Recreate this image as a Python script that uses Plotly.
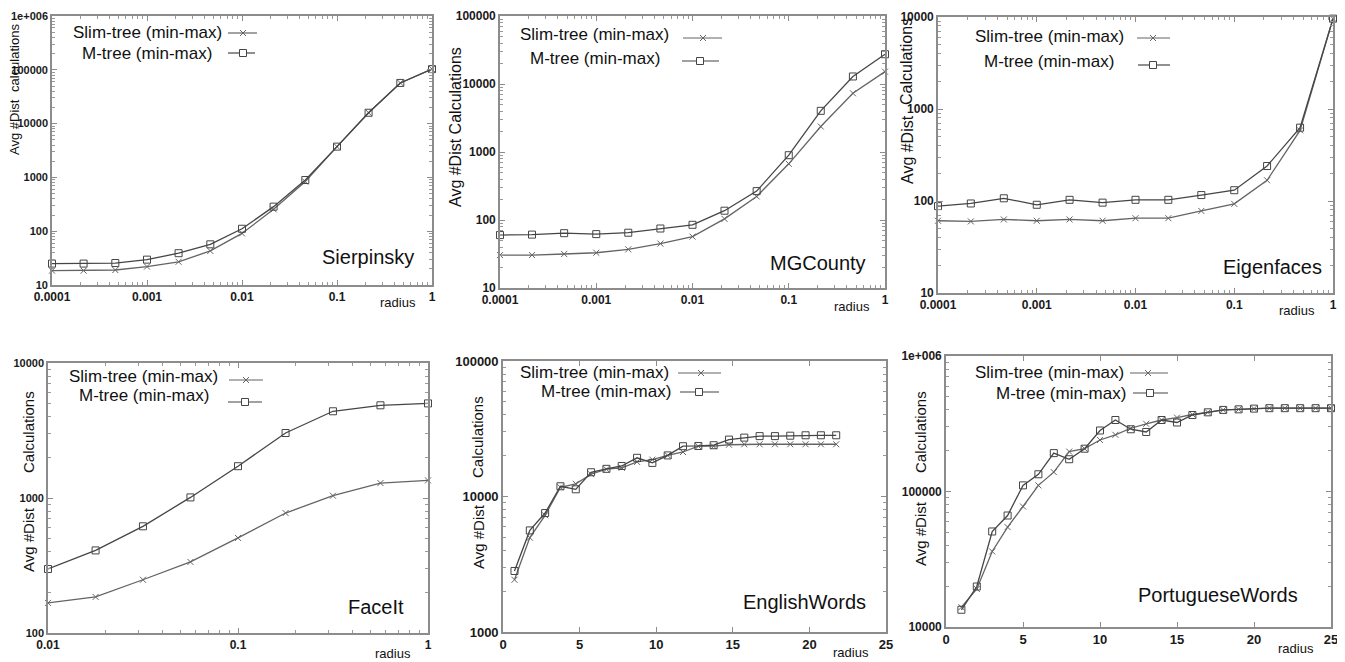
import plotly.graph_objects as go

# The page body has an 8px margin, so the figure is drawn 8px smaller and all
# reference pixel positions are shifted by that offset.
OFF = 8
W, H = 1345 - OFF, 662 - OFF

# ---------------- data ----------------
radius_small = [0.0001, 0.000215, 0.000464, 0.001, 0.00215, 0.00464, 0.01,
                0.0215, 0.0464, 0.1, 0.215, 0.464, 1]

sierp_slim = [18.5, 18.5, 19, 22, 27, 43, 91, 255, 835, 3730, 15900, 57000, 103000]
sierp_m = [25, 25, 25.6, 29.6, 39, 57, 111, 286, 894, 3730, 15900, 57000, 103000]

mg_slim = [30.5, 30.5, 31.6, 33, 37, 45, 57, 104, 222, 670, 2370, 7310, 15200]
mg_m = [60, 61, 64, 62, 65, 75, 85, 137, 266, 897, 4030, 12900, 27400]

eig_slim = [61, 60, 63, 61, 63, 61, 65, 65, 78, 93, 168, 586, 9600]
eig_m = [88, 94, 107, 91, 103, 96, 103, 103, 116, 131, 240, 627, 9600]

faceit_radius = [0.01, 0.0178, 0.0316, 0.0562, 0.1, 0.178, 0.316, 0.562, 1]
faceit_slim = [167, 185, 248, 336, 506, 774, 1040, 1290, 1350]
faceit_m = [298, 409, 617, 1010, 1720, 3030, 4390, 4860, 5020]

eng_radius = [0.75, 1.75, 2.75, 3.75, 4.75, 5.75, 6.75, 7.75, 8.75, 9.75, 10.75,
              11.75, 12.75, 13.75, 14.75, 15.75, 16.75, 17.75, 18.75, 19.75, 20.75, 21.75]
eng_slim = [2430, 4970, 7260, 11700, 12400, 14600, 15900, 16300, 18000, 18700, 20100,
            21300, 23500, 23500, 24100, 24300, 24300, 24300, 24300, 24300, 24300, 24300]
eng_m = [2820, 5620, 7550, 11900, 11300, 15100, 16000, 16800, 19300, 17700, 20100,
         23500, 23600, 23900, 26300, 27200, 27900, 27900, 28100, 28300, 28300, 28300]

por_radius = [1, 2, 3, 4, 5, 6, 7, 8, 9, 10, 11, 12, 13, 14, 15, 16, 17, 18, 19, 20,
              21, 22, 23, 24, 25]
por_slim = [14000, 19100, 36100, 54600, 77500, 111000, 139000, 197000, 207000, 240000,
            262000, 293000, 316000, 337000, 351000, 370000, 384000, 400000, 404000,
            409000, 412000, 412000, 412000, 412000, 412000]
por_m = [13400, 19900, 50700, 66500, 111000, 134000, 192000, 173000, 207000, 282000,
         337000, 288000, 275000, 337000, 323000, 367000, 384000, 400000, 404000,
         409000, 412000, 412000, 412000, 412000, 412000]

series_names = ["Slim-tree (min-max)", "M-tree (min-max)"]
dataset_names = ["Sierpinsky", "MGCounty", "Eigenfaces", "FaceIt", "EnglishWords",
                 "PortugueseWords"]
x_title = "radius"

x_ticks_small = [0.0001, 0.001, 0.01, 0.1, 1]
x_ticks_small_text = ["0.0001", "0.001", "0.01", "0.1", "1"]
x_ticks_faceit = [0.01, 0.1, 1]
x_ticks_faceit_text = ["0.01", "0.1", "1"]
x_ticks_lin = [0, 5, 10, 15, 20, 25]
x_ticks_lin_text = ["0", "5", "10", "15", "20", "25"]

y_ticks_1 = [10, 100, 1000, 10000, 100000, 1000000]
y_ticks_1_text = ["10", "100", "1000", "10000", "100000", "1e+006"]
y_ticks_2 = [10, 100, 1000, 10000, 100000]
y_ticks_2_text = ["10", "100", "1000", "10000", "100000"]
y_ticks_3 = [10, 100, 1000, 10000]
y_ticks_3_text = ["10", "100", "1000", "10000"]
y_ticks_4 = [100, 1000, 10000]
y_ticks_4_text = ["100", "1000", "10000"]
y_ticks_5 = [1000, 10000, 100000]
y_ticks_5_text = ["1000", "10000", "100000"]
y_ticks_6 = [10000, 100000, 1000000]
y_ticks_6_text = ["10000", "100000", "1e+006"]

# ---------------- styling ----------------
FONT = "Liberation Sans, Arial, sans-serif"
AXC = "#8c8c8c"
SLIM_C = "#646464"
M_C = "#454545"


def px(x):
    return (x - OFF) / W


def py(y):
    return 1 - (y - OFF) / H


def minor_log(lo, hi):
    vals = []
    for e in range(lo, hi):
        for m in range(2, 10):
            vals.append(m * 10 ** e)
    return vals


panels = [
    dict(x=radius_small, s=sierp_slim, m=sierp_m, dom=(52, 432, 16, 285), xlog=True,
         xr=(-4, 0), xt=x_ticks_small, xtt=x_ticks_small_text, yr=(1, 6), yt=y_ticks_1,
         ytt=y_ticks_1_text, xminor=(-4, 0), yminor=(1, 6), yfs=11, xfs=12),
    dict(x=radius_small, s=mg_slim, m=mg_m, dom=(500, 885, 16, 288), xlog=True,
         xr=(-4, 0), xt=x_ticks_small, xtt=x_ticks_small_text, yr=(1, 5), yt=y_ticks_2,
         ytt=y_ticks_2_text, xminor=(-4, 0), yminor=(1, 5), yfs=12, xfs=12),
    dict(x=radius_small, s=eig_slim, m=eig_m, dom=(938, 1333, 17, 293), xlog=True,
         xr=(-4, 0), xt=x_ticks_small, xtt=x_ticks_small_text, yr=(1, 4), yt=y_ticks_3,
         ytt=y_ticks_3_text, xminor=(-4, 0), yminor=(1, 4), yfs=12, xfs=12),
    dict(x=faceit_radius, s=faceit_slim, m=faceit_m, dom=(48, 428, 363, 633), xlog=True,
         xr=(-2, 0), xt=x_ticks_faceit, xtt=x_ticks_faceit_text, yr=(2, 4), yt=y_ticks_4,
         ytt=y_ticks_4_text, xminor=(-2, 0), yminor=(2, 4), yfs=11, xfs=12),
    dict(x=eng_radius, s=eng_slim, m=eng_m, dom=(503, 886, 361, 632), xlog=False,
         xr=(0, 25), xt=x_ticks_lin, xtt=x_ticks_lin_text, yr=(3, 5), yt=y_ticks_5,
         ytt=y_ticks_5_text, xminor=None, yminor=(3, 5), yfs=13, xfs=13),
    dict(x=por_radius, s=por_slim, m=por_m, dom=(946, 1331, 356, 627), xlog=False,
         xr=(0, 25), xt=x_ticks_lin, xtt=x_ticks_lin_text, yr=(4, 6), yt=y_ticks_6,
         ytt=y_ticks_6_text, xminor=None, yminor=(4, 6), yfs=12, xfs=13),
]

fig = go.Figure()
layout = dict(width=W, height=H, margin=dict(l=0, r=0, t=0, b=0, pad=0), autosize=False,
              paper_bgcolor="white", plot_bgcolor="white", showlegend=False,
              font=dict(family=FONT, color="#111"))

for i, p in enumerate(panels, start=1):
    xa = "x" if i == 1 else f"x{i}"
    ya = "y" if i == 1 else f"y{i}"
    x0, x1, y0, y1 = p["dom"]
    fig.add_trace(go.Scatter(x=p["x"], y=p["s"], mode="lines+markers", xaxis=xa, yaxis=ya,
                             name=series_names[0], cliponaxis=False,
                             line=dict(color=SLIM_C, width=1.3),
                             marker=dict(symbol="x-thin", size=6, color=SLIM_C,
                                         line=dict(color=SLIM_C, width=1))))
    fig.add_trace(go.Scatter(x=p["x"], y=p["m"], mode="lines+markers", xaxis=xa, yaxis=ya,
                             name=series_names[1], cliponaxis=False,
                             line=dict(color=M_C, width=1.3),
                             marker=dict(symbol="square-open", size=7, color=M_C,
                                         line=dict(color=M_C, width=1))))
    xkey = "xaxis" if i == 1 else f"xaxis{i}"
    ykey = "yaxis" if i == 1 else f"yaxis{i}"
    tickfont_x = dict(size=p["xfs"], color="#1a1a1a", family=FONT, weight="bold")
    tickfont_y = dict(size=p["yfs"], color="#1a1a1a", family=FONT, weight="bold")
    xaxis = dict(domain=[px(x0), px(x1)], anchor=ya, type="log" if p["xlog"] else "linear",
                 range=list(p["xr"]), tickmode="array", tickvals=p["xt"], ticktext=p["xtt"],
                 showline=True, linecolor=AXC, linewidth=1.6, mirror="ticks",
                 ticks="inside", ticklen=5, tickcolor=AXC, tickwidth=1.2,
                 showgrid=False, zeroline=False, automargin=False, tickfont=tickfont_x)
    if p["xminor"]:
        xaxis["minor"] = dict(tickmode="array", tickvals=minor_log(*p["xminor"]),
                              ticks="inside", ticklen=3, tickcolor="#999", showgrid=False)
    yaxis = dict(domain=[py(y1), py(y0)], anchor=xa, type="log", range=list(p["yr"]),
                 tickmode="array", tickvals=p["yt"], ticktext=p["ytt"],
                 showline=True, linecolor=AXC, linewidth=1.6, mirror="ticks",
                 ticks="inside", ticklen=5, tickcolor=AXC, tickwidth=1.2,
                 showgrid=False, zeroline=False, automargin=False, tickfont=tickfont_y,
                 minor=dict(tickmode="array", tickvals=minor_log(*p["yminor"]),
                            ticks="inside", ticklen=3, tickcolor="#999", showgrid=False))
    layout[xkey] = xaxis
    layout[ykey] = yaxis

annotations = []
shapes = []


def text(x, y, s, size, anchor="center", angle=0, color="#111"):
    annotations.append(dict(x=px(x), y=py(y), xref="paper", yref="paper", text=s,
                            showarrow=False, xanchor=anchor, yanchor="middle",
                            textangle=angle, borderpad=0,
                            font=dict(size=size, family=FONT, color=color)))


def legend_entry(tx, ty, lx0, lx1, ly, mx, kind, label):
    text(tx, ty, label, 17, anchor="right")
    col = SLIM_C if kind == "x" else M_C
    shapes.append(dict(type="line", xref="paper", yref="paper", x0=px(lx0), x1=px(lx1),
                       y0=py(ly), y1=py(ly), line=dict(color=col, width=1.2)))
    if kind == "x":
        for dy in (-3, 3):
            shapes.append(dict(type="line", xref="paper", yref="paper", x0=px(mx - 3),
                               x1=px(mx + 3), y0=py(ly - dy), y1=py(ly + dy),
                               line=dict(color=col, width=1)))
    else:
        shapes.append(dict(type="rect", xref="paper", yref="paper", x0=px(mx - 3.5),
                           x1=px(mx + 3.5), y0=py(ly - 3.5), y1=py(ly + 3.5),
                           fillcolor="white", line=dict(color=col, width=1)))


# legends (text right edge, text y, sample x0, x1, sample y, marker x)
legend_entry(223, 32, 228, 257, 33, 243, "x", series_names[0])
legend_entry(213, 53, 228, 255, 53, 243, "s", series_names[1])
legend_entry(670, 35, 683, 722, 38, 703, "x", series_names[0])
legend_entry(661, 58, 682, 719, 61, 700, "s", series_names[1])
legend_entry(1125, 37, 1137, 1170, 38, 1153, "x", series_names[0])
legend_entry(1115, 62, 1138, 1170, 65, 1153, "s", series_names[1])
legend_entry(219, 376, 229, 263, 380, 246, "x", series_names[0])
legend_entry(210, 395, 228, 262, 402, 245, "s", series_names[1])
legend_entry(670, 372, 678, 721, 373, 701, "x", series_names[0])
legend_entry(672, 391, 680, 719, 392, 699, "s", series_names[1])
legend_entry(1125, 372, 1130, 1168, 373, 1148, "x", series_names[0])
legend_entry(1127, 393, 1133, 1168, 393, 1150, "s", series_names[1])

# dataset names
text(415, 257, dataset_names[0], 20, anchor="right")
text(867, 263, dataset_names[1], 20, anchor="right")
text(1323, 267, dataset_names[2], 20, anchor="right")
text(405, 607, dataset_names[3], 20, anchor="right")
text(867, 602, dataset_names[4], 20, anchor="right")
text(1299, 595, dataset_names[5], 20, anchor="right")

# x titles
text(398, 303, x_title, 13)
text(852, 306, x_title, 13)
text(1297, 310, x_title, 13)
text(393, 653, x_title, 13)
text(851, 652, x_title, 13)
text(1296, 648, x_title, 13)

# y titles
text(14, 127, "Avg #Dist", 13, angle=-90)
text(14, 58, "calculations", 13, angle=-90)
text(455, 127, "Avg #Dist Calculations", 16, angle=-90)
text(907, 150, "Avg #Dist", 16, angle=-90)
text(907, 62, "Calculations", 16, angle=-90)
text(28, 540, "Avg #Dist", 15, angle=-90)
text(28, 432, "Calculations", 15, angle=-90)
text(478, 537, "Avg #Dist", 15, angle=-90)
text(478, 437, "Calculations", 15, angle=-90)
text(920, 534, "Avg #Dist", 15, angle=-90)
text(920, 432, "Calculations", 15, angle=-90)

layout["annotations"] = annotations
layout["shapes"] = shapes
fig.update_layout(**layout)
fig.write_html("out.html")
